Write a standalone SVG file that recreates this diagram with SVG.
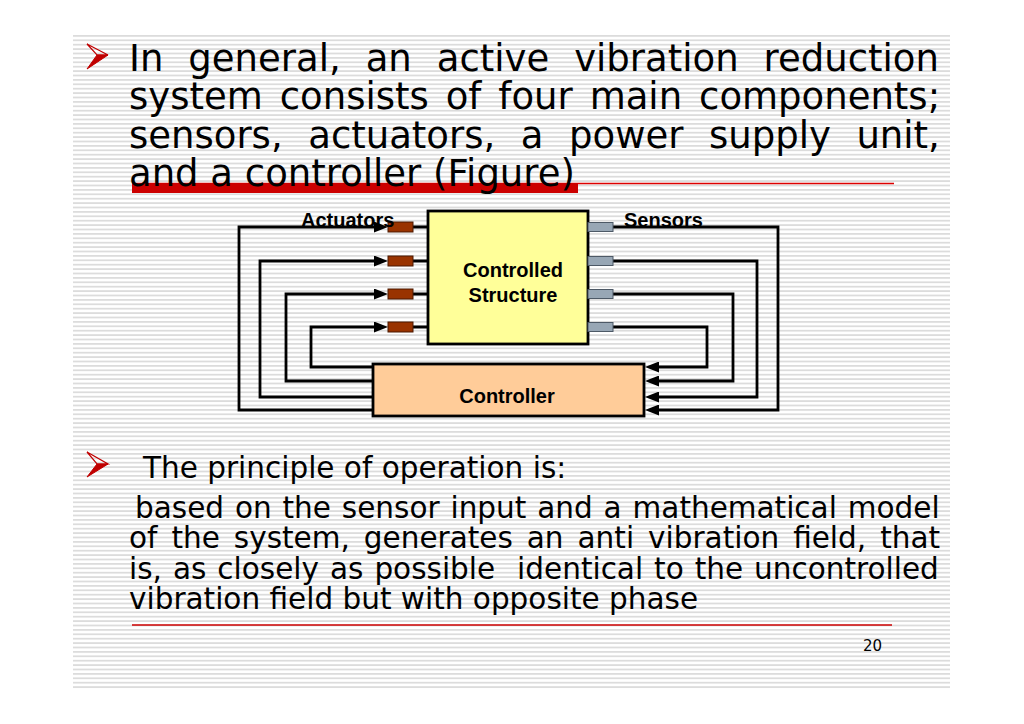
<svg xmlns="http://www.w3.org/2000/svg" width="1024" height="724" viewBox="0 0 1024 724">
<defs>
<pattern id="stripes" x="0" y="35" width="8" height="4.4" patternUnits="userSpaceOnUse">
<rect x="0" y="0" width="8" height="1.8" fill="#dcdcdc"/>
</pattern>
<marker id="arr" viewBox="0 0 14 11" refX="3" refY="5.5" markerWidth="14" markerHeight="11" markerUnits="userSpaceOnUse" orient="auto">
<path d="M0,0 L14,5.5 L0,11 z" fill="#000"/>
</marker>
<style>
.body{font-family:"DejaVu Sans",Verdana,sans-serif;fill:#000}
.t1{font-size:37px}
.t2{font-size:29.5px}
.lbl{font-family:"Liberation Sans",Arial,sans-serif;font-weight:bold;font-size:20px;fill:#000}
.box{stroke:#000;stroke-width:2.8}
.act{fill:#993300;stroke:#4a1800;stroke-width:1}
.sen{fill:#98a7b5;stroke:#4d5966;stroke-width:1}
.wire{fill:none;stroke:#000;stroke-width:2.8}
.bul{fill:#c00000;stroke:#c00000;stroke-width:1;stroke-linejoin:miter}
</style>
</defs>
<rect width="1024" height="724" fill="#fff"/>
<rect x="73" y="35" width="877" height="655" fill="url(#stripes)"/>

<g id="text-top">
<polygon points="87,44 108,55 97,55" fill="none" stroke="#c00000" stroke-width="1.2"/>
<polygon class="bul" points="97,55 108,55 87,69"/>
<text class="body t1" x="129" y="71" word-spacing="13.2">In general, an active vibration reduction</text>
<text class="body t1" x="129" y="109" word-spacing="5.2">system consists of four main components;</text>
<text class="body t1" x="129" y="148" word-spacing="13.8">sensors, actuators, a power supply unit,</text>
<line x1="132" y1="183.5" x2="894" y2="183.5" stroke="#dd0000" stroke-width="1.5"/>
<rect x="132" y="183" width="446" height="10" fill="#cc0000"/>
<text class="body t1" x="129" y="186">and a controller (Figure)</text>
</g>

<g id="connectors">
<path class="wire" d="M373,410 H239 V227 H377" marker-end="url(#arr)"/>
<path class="wire" d="M373,397 H260 V261 H377" marker-end="url(#arr)"/>
<path class="wire" d="M373,381 H286 V294 H377" marker-end="url(#arr)"/>
<path class="wire" d="M373,367 H311 V327 H377" marker-end="url(#arr)"/>
<path class="wire" d="M613,227 H778 V410 H656" marker-end="url(#arr)"/>
<path class="wire" d="M613,261 H757 V397 H656" marker-end="url(#arr)"/>
<path class="wire" d="M613,294 H733 V381 H656" marker-end="url(#arr)"/>
<path class="wire" d="M613,327 H707 V367 H656" marker-end="url(#arr)"/>
<path class="wire" d="M413,227 H428 M413,261 H428 M413,294 H428 M413,327 H428"/>
</g>

<g id="controlled-structure">
<rect class="box" x="428" y="211" width="160" height="133" fill="#ffff99"/>
<text class="lbl" x="513" y="277" text-anchor="middle">Controlled</text>
<text class="lbl" x="513" y="302" text-anchor="middle">Structure</text>
</g>

<g id="controller">
<rect class="box" x="373" y="364" width="271" height="52" fill="#ffcc99"/>
<text class="lbl" x="507" y="403" text-anchor="middle">Controller</text>
</g>

<g id="actuators">
<rect class="act" x="388" y="222" width="25" height="10"/>
<rect class="act" x="388" y="256" width="25" height="10"/>
<rect class="act" x="388" y="289" width="25" height="10"/>
<rect class="act" x="388" y="322" width="25" height="10"/>
<text class="lbl" x="301" y="227">Actuators</text>
</g>

<g id="sensors">
<rect class="sen" x="588" y="222.5" width="25" height="9"/>
<rect class="sen" x="588" y="256.5" width="25" height="9"/>
<rect class="sen" x="588" y="289.5" width="25" height="9"/>
<rect class="sen" x="588" y="322.5" width="25" height="9"/>
<text class="lbl" x="624" y="227">Sensors</text>
</g>

<g id="text-bottom">
<polygon points="87,452 108,464 97,464" fill="none" stroke="#c00000" stroke-width="1.2"/>
<polygon class="bul" points="97,464 108,464 87,477"/>
<text class="body t2" x="143" y="478">The principle of operation is:</text>
<text class="body t2" x="135" y="518" word-spacing="1.5">based on the sensor input and a mathematical model</text>
<text class="body t2" x="129" y="548" word-spacing="4.6">of the system, generates an anti vibration field, that</text>
<text class="body t2" x="129" y="579" word-spacing="1.6" xml:space="preserve">is, as closely as possible  identical to the uncontrolled</text>
<text class="body t2" x="129" y="609">vibration field but with opposite phase</text>
<line x1="132" y1="625" x2="892" y2="625" stroke="#cc0000" stroke-width="1.5"/>
<text class="body" x="863" y="651" font-size="15">20</text>
</g>
</svg>
